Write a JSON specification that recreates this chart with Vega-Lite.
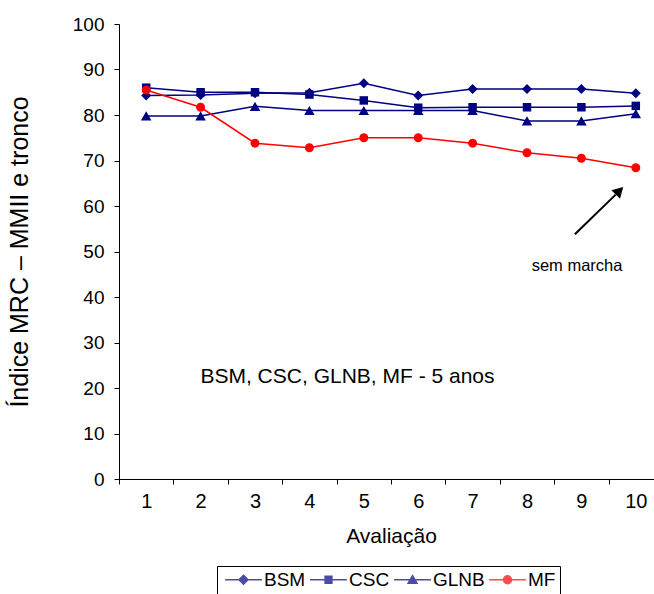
{
  "$schema": "https://vega.github.io/schema/vega-lite/v6.json",
  "autosize": {"type": "none"},
  "padding": {"left": 119, "top": 24, "right": 0, "bottom": 115},
  "width": 544,
  "height": 455,
  "background": "white",
  "config": {
    "view": {"stroke": null},
    "font": "Liberation Sans",
    "axis": {"grid": false, "domainColor": "#000000", "tickColor": "#000000", "labelColor": "#000000", "titleColor": "#000000", "labelFont": "Liberation Sans", "titleFont": "Liberation Sans", "labelFontSize": 19, "titleFontSize": 21, "titleFontWeight": "normal", "tickSize": 5}
  },
  "datasets": {
    "series": [
      {"aval": 1, "serie": "BSM", "valor": 84.3}, {"aval": 2, "serie": "BSM", "valor": 84.4}, {"aval": 3, "serie": "BSM", "valor": 84.8}, {"aval": 4, "serie": "BSM", "valor": 84.9}, {"aval": 5, "serie": "BSM", "valor": 87.0}, {"aval": 6, "serie": "BSM", "valor": 84.3}, {"aval": 7, "serie": "BSM", "valor": 85.7}, {"aval": 8, "serie": "BSM", "valor": 85.7}, {"aval": 9, "serie": "BSM", "valor": 85.7}, {"aval": 10, "serie": "BSM", "valor": 84.8},
      {"aval": 1, "serie": "CSC", "valor": 86.0}, {"aval": 2, "serie": "CSC", "valor": 85.0}, {"aval": 3, "serie": "CSC", "valor": 85.0}, {"aval": 4, "serie": "CSC", "valor": 84.5}, {"aval": 5, "serie": "CSC", "valor": 83.2}, {"aval": 6, "serie": "CSC", "valor": 81.6}, {"aval": 7, "serie": "CSC", "valor": 81.7}, {"aval": 8, "serie": "CSC", "valor": 81.7}, {"aval": 9, "serie": "CSC", "valor": 81.7}, {"aval": 10, "serie": "CSC", "valor": 82.0},
      {"aval": 1, "serie": "GLNB", "valor": 79.8}, {"aval": 2, "serie": "GLNB", "valor": 79.8}, {"aval": 3, "serie": "GLNB", "valor": 81.9}, {"aval": 4, "serie": "GLNB", "valor": 81.0}, {"aval": 5, "serie": "GLNB", "valor": 81.0}, {"aval": 6, "serie": "GLNB", "valor": 81.0}, {"aval": 7, "serie": "GLNB", "valor": 81.0}, {"aval": 8, "serie": "GLNB", "valor": 78.7}, {"aval": 9, "serie": "GLNB", "valor": 78.7}, {"aval": 10, "serie": "GLNB", "valor": 80.3},
      {"aval": 1, "serie": "MF", "valor": 85.5}, {"aval": 2, "serie": "MF", "valor": 81.7}, {"aval": 3, "serie": "MF", "valor": 73.8}, {"aval": 4, "serie": "MF", "valor": 72.8}, {"aval": 5, "serie": "MF", "valor": 75.0}, {"aval": 6, "serie": "MF", "valor": 75.0}, {"aval": 7, "serie": "MF", "valor": 73.8}, {"aval": 8, "serie": "MF", "valor": 71.7}, {"aval": 9, "serie": "MF", "valor": 70.5}, {"aval": 10, "serie": "MF", "valor": 68.4}
    ],
    "legenda": [
      {"aval": 1, "serie": "BSM", "valor": -50}, {"aval": 1, "serie": "CSC", "valor": -50}, {"aval": 1, "serie": "GLNB", "valor": -50}, {"aval": 1, "serie": "MF", "valor": -50}
    ],
    "textos": [
      {"x": 8.92, "y": 46.8, "texto": "sem marcha", "tam": 16.5},
      {"x": 4.70, "y": 22.4, "texto": "BSM, CSC, GLNB, MF - 5 anos", "tam": 21}
    ],
    "seta": [{"x": 8.88, "y": 53.8, "x2": 9.63, "y2": 62.5}],
    "ponta": [{"x": 9.70, "y": 63.35}]
  },
  "encoding": {
    "x": {
      "field": "aval", "type": "quantitative",
      "scale": {"domain": [0.5, 10.5], "nice": false, "zero": false},
      "axis": {
        "title": "Avaliação",
        "values": [0.5, 1, 1.5, 2, 2.5, 3, 3.5, 4, 4.5, 5, 5.5, 6, 6.5, 7, 7.5, 8, 8.5, 9, 9.5, 10, 10.5],
        "labelExpr": "datum.value % 1 === 0 ? format(datum.value, 'd') : ''",
        "tickColor": {"condition": {"test": "datum.value % 1 === 0", "value": "transparent"}, "value": "#000000"},
        "labelFontSize": 20,
        "labelPadding": 7,
        "titlePadding": 14,
        "labelFlush": false,
        "labelOverlap": false
      }
    },
    "y": {
      "field": "valor", "type": "quantitative",
      "scale": {"domain": [0, 100], "nice": false},
      "axis": {
        "title": "Índice MRC – MMII e tronco",
        "titleFontSize": 25,
        "values": [0, 10, 20, 30, 40, 50, 60, 70, 80, 90, 100],
        "labelPadding": 10,
        "titlePadding": 40
      }
    }
  },
  "layer": [
    {
      "data": {"name": "series"},
      "transform": [{"filter": "datum.serie === 'BSM'"}],
      "mark": {"type": "line", "color": "#000080", "strokeWidth": 1.5, "point": {"shape": "diamond", "filled": true, "color": "#000080", "size": 100}}
    },
    {
      "data": {"name": "series"},
      "transform": [{"filter": "datum.serie === 'CSC'"}],
      "mark": {"type": "line", "color": "#000080", "strokeWidth": 1.5, "point": {"shape": "square", "filled": true, "color": "#000080", "size": 72}}
    },
    {
      "data": {"name": "series"},
      "transform": [{"filter": "datum.serie === 'GLNB'"}],
      "mark": {"type": "line", "color": "#000080", "strokeWidth": 1.5, "point": {"shape": "triangle-up", "filled": true, "color": "#000080", "size": 110}}
    },
    {
      "data": {"name": "series"},
      "transform": [{"filter": "datum.serie === 'MF'"}],
      "mark": {"type": "line", "color": "#FF0000", "strokeWidth": 1.5, "point": {"shape": "circle", "filled": true, "color": "#FF0000", "size": 80}}
    },
    {
      "data": {"name": "legenda"},
      "mark": {"type": "point", "filled": true, "clip": true},
      "encoding": {
        "color": {
          "field": "serie", "type": "nominal",
          "scale": {"domain": ["BSM", "CSC", "GLNB", "MF"], "range": ["#000080", "#000080", "#000080", "#FF0000"]},
          "legend": {
            "title": null, "orient": "none", "legendX": 98, "legendY": 542, "direction": "horizontal",
            "strokeColor": "#000000", "fillColor": "#ffffff", "padding": 4,
            "labelFontSize": 19, "labelFont": "Liberation Sans", "labelColor": "#000000",
            "symbolSize": 64, "symbolStrokeWidth": 1.5, "symbolOffset": 13, "labelOffset": 11, "columnPadding": -4
          }
        },
        "stroke": {
          "field": "serie", "type": "nominal",
          "scale": {"domain": ["BSM", "CSC", "GLNB", "MF"], "range": ["#000080", "#000080", "#000080", "#FF0000"]}
        },
        "shape": {
          "field": "serie", "type": "nominal",
          "scale": {"domain": ["BSM", "CSC", "GLNB", "MF"], "range": [
            "M-4.6,0H4.6M0,-1.1L1.1,0L0,1.1L-1.1,0Z",
            "M-4.6,0H4.6M-0.85,-0.85H0.85V0.85H-0.85Z",
            "M-4.6,0H4.6M0,-1L1.1,0.85H-1.1Z",
            "M-4.6,0H4.6M1,0A1,1,0,1,1,-1,0A1,1,0,1,1,1,0Z"
          ]}
        }
      }
    },
    {
      "data": {"name": "textos"},
      "mark": {"type": "text", "font": "Liberation Sans", "color": "#000000", "align": "center", "baseline": "middle"},
      "encoding": {
        "x": {"field": "x", "type": "quantitative"},
        "y": {"field": "y", "type": "quantitative"},
        "text": {"field": "texto"},
        "size": {"field": "tam", "type": "quantitative", "scale": null, "legend": null}
      }
    },
    {
      "data": {"name": "seta"},
      "mark": {"type": "rule", "color": "#000000", "strokeWidth": 2},
      "encoding": {
        "x": {"field": "x", "type": "quantitative"},
        "y": {"field": "y", "type": "quantitative"},
        "x2": {"field": "x2"},
        "y2": {"field": "y2"}
      }
    },
    {
      "data": {"name": "ponta"},
      "mark": {"type": "point", "shape": "triangle-up", "filled": true, "color": "#000000", "size": 150, "angle": 45, "opacity": 1},
      "encoding": {
        "x": {"field": "x", "type": "quantitative"},
        "y": {"field": "y", "type": "quantitative"}
      }
    }
  ]
}
